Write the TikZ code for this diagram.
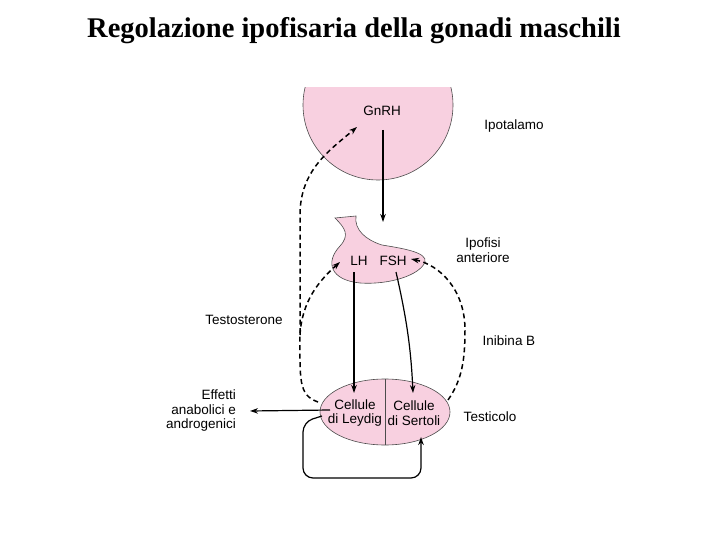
\documentclass[tikz,border=0pt]{standalone}
\usepackage{fontspec}
\setmainfont{Liberation Sans}
\newfontfamily\titlefont{Liberation Serif}
\usetikzlibrary{arrows.meta}
\definecolor{pinkf}{RGB}{248,208,224}
\begin{document}
\begin{tikzpicture}[x=1pt,y=-1pt,
  lbl/.style={font=\fontsize{13.5}{14.5}\selectfont,inner sep=0pt},
  organ/.style={fill=pinkf,draw=black!70,line width=0.6pt},
  sol/.style={line width=1.2pt,-{Stealth[length=8pt,width=5.5pt]}},
  dsh/.style={line width=1.5pt,dash pattern=on 5pt off 3.5pt,-{Stealth[length=8pt,width=5.5pt]}}]
\useasboundingbox (0,0) rectangle (720,540);
\node[font=\titlefont\bfseries\fontsize{28.5}{31}\selectfont] (title) at (354,31) {Regolazione ipofisaria della gonadi maschili};
% hypothalamus
\begin{scope}
\clip (290,88) rectangle (470,200);
\draw[organ] (378,105) circle (75);
\end{scope}
\node[lbl] (gnrh) at (382,111) {GnRH};
\node[lbl] (ipot) at (514,126) {Ipotalamo};
% pituitary
\draw[organ] (335,218) .. controls (345,228) and (350,235) .. (340,246) .. controls (325,262) and (330,280) .. (360,283) .. controls (390,285) and (420,275) .. (425,262) .. controls (428,252) and (400,248) .. (382,245) .. controls (366,240) and (354,230) .. (356,216) -- cycle;
\node[lbl] (lh) at (359,261) {LH};
\node[lbl] (fsh) at (393,261) {FSH};
\node[lbl,align=center] (ipof) at (483,250) {Ipofisi\\anteriore};
% testis
\draw[organ] (385,412) ellipse (65 and 33);
\draw[black!70,line width=0.6pt] (385,379) -- (385,445);
\node[lbl,align=center] (leydig) at (355,413) {Cellule\\di Leydig};
\node[lbl,align=center] (sertoli) at (414,413) {Cellule\\di Sertoli};
\node[lbl] (testic) at (490,417) {Testicolo};
\node[lbl] (testo) at (244,320) {Testosterone};
\node[lbl] (inib) at (509,341) {Inibina B};
\node[lbl,align=right,anchor=east] (eff) at (236,411) {Effetti\\anabolici e\\androgenici};
% coordinates
\coordinate (g1) at (383,130);
\coordinate (g2) at (383,222);
\coordinate (l1) at (354,272);
\coordinate (l2) at (354,393);
\coordinate (f1) at (396,272);
\coordinate (f2) at (413,393);
\coordinate (tl) at (318,402);
\coordinate (tr) at (448,400);
\coordinate (fb) at (340,262);
\coordinate (fsr) at (411,259);
\coordinate (gn) at (357,127);
\coordinate (e1) at (330,410);
\coordinate (e2) at (250,411);
\coordinate (lp) at (322,416);
\coordinate (lpe) at (421,437);
% arrows
\draw[sol] (g1) -- (g2);
\draw[sol] (l1) -- (l2);
\draw[sol] (f1) .. controls (407,320) and (411,350) .. (f2);
\draw[dsh] (tl) .. controls (298,395) and (300,380) .. (300,330) -- (300,215) .. controls (300,170) and (330,150) .. (gn);
\draw[dsh] (300,335) .. controls (302,300) and (320,280) .. (fb);
\draw[dsh] (tr) .. controls (462,380) and (465,360) .. (465,330) .. controls (465,290) and (440,265) .. (fsr);
\draw[sol] (e1) -- (e2);
\draw[sol,rounded corners=10pt] (lp) -- (303,422) -- (303,478) -- (421,478) -- (lpe);
\end{tikzpicture}
\end{document}
